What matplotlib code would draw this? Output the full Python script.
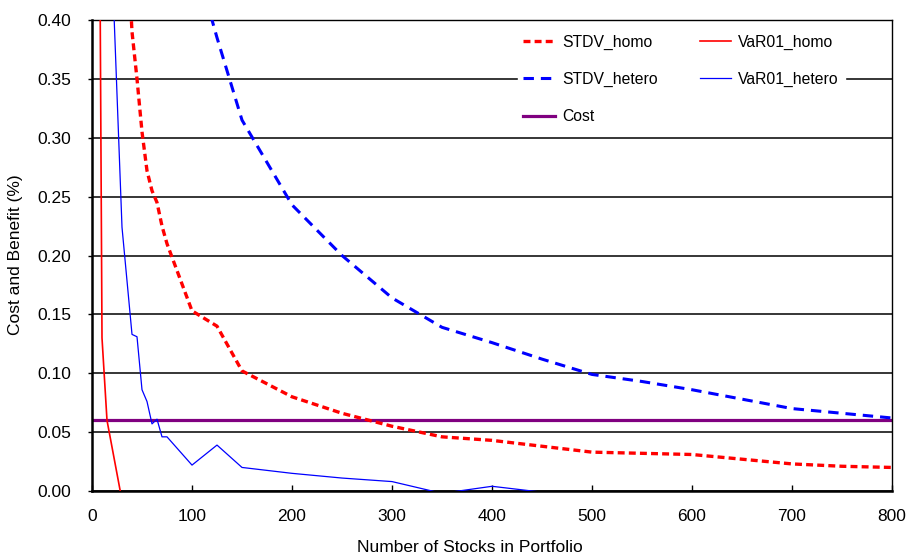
import matplotlib
matplotlib.use("Agg")
import matplotlib.pyplot as plt

plt.rcParams['font.family'] = ['Liberation Sans', 'DejaVu Sans']
plt.rcParams['lines.scale_dashes'] = False

# Data
x_stdv_homo = [30, 40, 45, 50, 55, 60, 65, 70, 75, 100, 125, 150, 200, 250, 300, 350, 400, 450, 500, 550, 600, 650, 700, 750, 800]
y_stdv_homo = [0.55, 0.39, 0.35, 0.305, 0.272, 0.255, 0.245, 0.225, 0.21, 0.153, 0.140, 0.102, 0.080, 0.066, 0.055, 0.046, 0.043, 0.038, 0.033, 0.032, 0.031, 0.027, 0.023, 0.021, 0.020]

x_stdv_hetero = [100, 125, 150, 200, 250, 300, 350, 400, 450, 500, 550, 600, 650, 700, 750, 800]
y_stdv_hetero = [0.46, 0.385, 0.315, 0.243, 0.200, 0.164, 0.139, 0.126, 0.112, 0.099, 0.093, 0.086, 0.078, 0.070, 0.066, 0.062]

x_var_homo = [5, 10, 15, 30, 40, 50]
y_var_homo = [0.90, 0.13, 0.06, -0.008, -0.02, -0.03]

x_var_hetero = [20, 30, 40, 45, 50, 55, 60, 65, 70, 75, 100, 125, 150, 200, 250, 300, 350, 400, 450, 500, 550, 600, 650, 700, 750, 800]
y_var_hetero = [0.45, 0.224, 0.133, 0.131, 0.086, 0.076, 0.057, 0.061, 0.046, 0.046, 0.022, 0.039, 0.020, 0.015, 0.011, 0.008, -0.002, 0.004, -0.001, -0.002, -0.001, -0.001, -0.002, -0.002, -0.001, -0.001]

cost_x = [0, 800]
cost_y = [0.06, 0.06]

x_ticks = [0, 100, 200, 300, 400, 500, 600, 700, 800]
y_ticks = [0.00, 0.05, 0.10, 0.15, 0.20, 0.25, 0.30, 0.35, 0.40]

fig = plt.figure(figsize=(9.09, 5.53), dpi=100)
ax = fig.add_axes([92/909, 1-491/553, 800/909, 471/553])

for yt in y_ticks:
    ax.axhline(yt, color='black', lw=1.1, zorder=1)

l1, = ax.plot(x_stdv_homo, y_stdv_homo, color='#FF0000', lw=2.4, dashes=(5, 3), label='STDV_homo', zorder=3)
l2, = ax.plot(x_stdv_hetero, y_stdv_hetero, color='#0000FF', lw=2.2, dashes=(7.5, 5), label='STDV_hetero', zorder=3)
l3, = ax.plot(cost_x, cost_y, color='#800080', lw=2.3, label='Cost', zorder=2)
l4, = ax.plot(x_var_homo, y_var_homo, color='#FF0000', lw=1.2, label='VaR01_homo', zorder=3)
l5, = ax.plot(x_var_hetero, y_var_hetero, color='#0000FF', lw=0.9, label='VaR01_hetero', zorder=3)

ax.set_xlim(0, 800)
ax.set_ylim(0, 0.40)
ax.set_xticks(x_ticks)
ax.set_yticks(y_ticks)
ax.set_yticklabels([f"{v:.2f}" for v in y_ticks])
ax.tick_params(axis='x', direction='in', length=4, width=1, labelsize=12.5, pad=13)
ax.tick_params(axis='y', direction='out', length=3, width=1, labelsize=12.5, pad=12)

for s in ['top', 'right']:
    ax.spines[s].set_linewidth(1.0)
for s in ['left', 'bottom']:
    ax.spines[s].set_linewidth(1.8)

fig.text(16/909, 1-255/553, 'Cost and Benefit (%)', fontsize=12.5, rotation=90, ha='center', va='center')
fig.text(470/909, 1-547/553, 'Number of Stocks in Portfolio', fontsize=12.5, ha='center', va='center')

leg = ax.legend(handles=[l1, l2, l3, l4, l5], ncol=2, loc='upper left',
                bbox_to_anchor=((518-92)/800, (491-29)/471),
                frameon=True, fancybox=False, edgecolor='white', facecolor='white', framealpha=1,
                fontsize=11.3, handlelength=2.0, handletextpad=0.45, columnspacing=2.7,
                labelspacing=1.42, borderpad=0.35, borderaxespad=0)
leg.set_zorder(5)

fig.savefig('out.png', dpi=100)
